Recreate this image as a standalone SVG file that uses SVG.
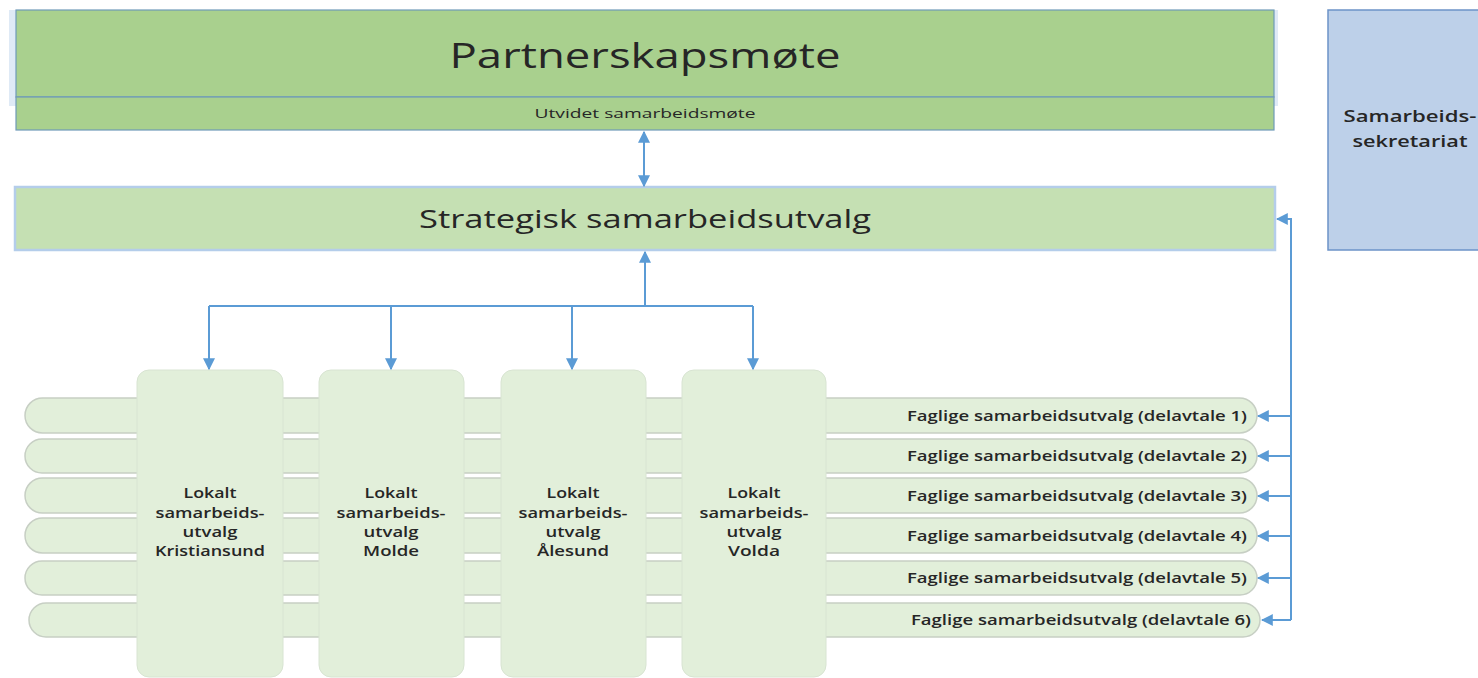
<svg xmlns="http://www.w3.org/2000/svg" width="1478" height="678" viewBox="0 0 1478 678">
<style>
text{font-family:"Open Sans","Liberation Sans",sans-serif;fill:#262626;text-anchor:middle}
.top{fill:#a9d08e;stroke:#6f9ab8;stroke-width:1.2}
.strat{fill:#c5e0b3;stroke:#b4cdea;stroke-width:2.5}
.sek{fill:#bdd0e9;stroke:#6c93c8;stroke-width:1.5}
.loc{fill:#e2efda;stroke:#d8e4d2;stroke-width:1}
.pill{fill:#e2efda;stroke:#c7cfc4;stroke-width:1.5}
.con{fill:none;stroke:#5b9bd5;stroke-width:2}
.fag{font-size:14px;font-weight:600;text-anchor:end}
.lt{font-size:14.5px;font-weight:600}
</style>
<defs>
<marker id="ah" viewBox="0 0 10 10" refX="9" refY="5" markerWidth="6" markerHeight="6" orient="auto-start-reverse" markerUnits="strokeWidth">
<path d="M0,0 L10,5 L0,10 z" fill="#5b9bd5"/>
</marker>
</defs>

<g id="partnerskapsmote">
<rect x="9" y="10" width="1269" height="96" fill="#c9dcf0" opacity="0.6"/>
<rect class="top" x="16" y="10" width="1258" height="87"/>
<text x="645" y="68" font-size="34px" textLength="391" lengthAdjust="spacingAndGlyphs">Partnerskapsmøte</text>
</g>
<g id="utvidet">
<rect class="top" x="16" y="97" width="1258" height="33"/>
<text x="645" y="118" font-size="13.5px" textLength="221" lengthAdjust="spacingAndGlyphs">Utvidet samarbeidsmøte</text>
</g>
<g id="strategisk">
<rect class="strat" x="15" y="187" width="1260" height="63"/>
<text x="645" y="228" font-size="26px" textLength="452" lengthAdjust="spacingAndGlyphs">Strategisk samarbeidsutvalg</text>
</g>
<g id="sekretariat">
<rect class="sek" x="1328" y="10" width="160" height="240"/>
<text x="1410" y="122" font-size="15.5px" font-weight="600" textLength="133" lengthAdjust="spacingAndGlyphs">Samarbeids-</text>
<text x="1410" y="147" font-size="15.5px" font-weight="600" textLength="115" lengthAdjust="spacingAndGlyphs">sekretariat</text>
</g>

<g id="faglige">
<g id="fag1"><rect class="pill" x="25" y="398" width="1232" height="35" rx="17.5"/><text class="fag" x="1247" y="421" textLength="340" lengthAdjust="spacingAndGlyphs">Faglige samarbeidsutvalg (delavtale 1)</text></g>
<g id="fag2"><rect class="pill" x="25" y="439" width="1232" height="34" rx="17"/><text class="fag" x="1247" y="461" textLength="340" lengthAdjust="spacingAndGlyphs">Faglige samarbeidsutvalg (delavtale 2)</text></g>
<g id="fag3"><rect class="pill" x="25" y="478" width="1232" height="35" rx="17.5"/><text class="fag" x="1247" y="501" textLength="340" lengthAdjust="spacingAndGlyphs">Faglige samarbeidsutvalg (delavtale 3)</text></g>
<g id="fag4"><rect class="pill" x="25" y="518" width="1232" height="35" rx="17.5"/><text class="fag" x="1247" y="541" textLength="340" lengthAdjust="spacingAndGlyphs">Faglige samarbeidsutvalg (delavtale 4)</text></g>
<g id="fag5"><rect class="pill" x="25" y="561" width="1232" height="34" rx="17"/><text class="fag" x="1247" y="583" textLength="340" lengthAdjust="spacingAndGlyphs">Faglige samarbeidsutvalg (delavtale 5)</text></g>
<g id="fag6"><rect class="pill" x="29" y="603" width="1231" height="34" rx="17"/><text class="fag" x="1251" y="625" textLength="340" lengthAdjust="spacingAndGlyphs">Faglige samarbeidsutvalg (delavtale 6)</text></g>
</g>

<g id="lokalt-kristiansund">
<rect class="loc" x="137" y="370" width="146" height="307" rx="12"/>
<text class="lt" x="210" y="498" textLength="53" lengthAdjust="spacingAndGlyphs">Lokalt</text><text class="lt" x="210" y="518" textLength="109" lengthAdjust="spacingAndGlyphs">samarbeids-</text><text class="lt" x="210" y="537" textLength="55" lengthAdjust="spacingAndGlyphs">utvalg</text><text class="lt" x="210" y="556" textLength="110" lengthAdjust="spacingAndGlyphs">Kristiansund</text>
</g>
<g id="lokalt-molde">
<rect class="loc" x="319" y="370" width="145" height="307" rx="12"/>
<text class="lt" x="391" y="498" textLength="53" lengthAdjust="spacingAndGlyphs">Lokalt</text><text class="lt" x="391" y="518" textLength="109" lengthAdjust="spacingAndGlyphs">samarbeids-</text><text class="lt" x="391" y="537" textLength="55" lengthAdjust="spacingAndGlyphs">utvalg</text><text class="lt" x="391" y="556" textLength="56" lengthAdjust="spacingAndGlyphs">Molde</text>
</g>
<g id="lokalt-alesund">
<rect class="loc" x="501" y="370" width="145" height="307" rx="12"/>
<text class="lt" x="573" y="498" textLength="53" lengthAdjust="spacingAndGlyphs">Lokalt</text><text class="lt" x="573" y="518" textLength="109" lengthAdjust="spacingAndGlyphs">samarbeids-</text><text class="lt" x="573" y="537" textLength="55" lengthAdjust="spacingAndGlyphs">utvalg</text><text class="lt" x="573" y="556" textLength="72" lengthAdjust="spacingAndGlyphs">Ålesund</text>
</g>
<g id="lokalt-volda">
<rect class="loc" x="682" y="370" width="144" height="307" rx="12"/>
<text class="lt" x="754" y="498" textLength="53" lengthAdjust="spacingAndGlyphs">Lokalt</text><text class="lt" x="754" y="518" textLength="109" lengthAdjust="spacingAndGlyphs">samarbeids-</text><text class="lt" x="754" y="537" textLength="55" lengthAdjust="spacingAndGlyphs">utvalg</text><text class="lt" x="754" y="556" textLength="52" lengthAdjust="spacingAndGlyphs">Volda</text>
</g>

<g id="connectors">
<path class="con" d="M644,132 L644,186" marker-start="url(#ah)" marker-end="url(#ah)"/>
<path class="con" d="M645,306 L645,252" stroke-width="3" marker-end="url(#ah)"/>
<path class="con" d="M209,306 L753,306"/>
<path class="con" d="M209,306 L209,369" marker-end="url(#ah)"/>
<path class="con" d="M391,306 L391,369" marker-end="url(#ah)"/>
<path class="con" d="M572,306 L572,369" marker-end="url(#ah)"/>
<path class="con" d="M753,306 L753,369" marker-end="url(#ah)"/>
<path class="con" d="M1291,620 L1291,219 L1277,219" marker-end="url(#ah)"/>
<path class="con" d="M1291,416 L1258,416" marker-end="url(#ah)"/>
<path class="con" d="M1291,456 L1258,456" marker-end="url(#ah)"/>
<path class="con" d="M1291,496 L1258,496" marker-end="url(#ah)"/>
<path class="con" d="M1291,536 L1258,536" marker-end="url(#ah)"/>
<path class="con" d="M1291,578 L1258,578" marker-end="url(#ah)"/>
<path class="con" d="M1291,620 L1262,620" marker-end="url(#ah)"/>
</g>
</svg>
